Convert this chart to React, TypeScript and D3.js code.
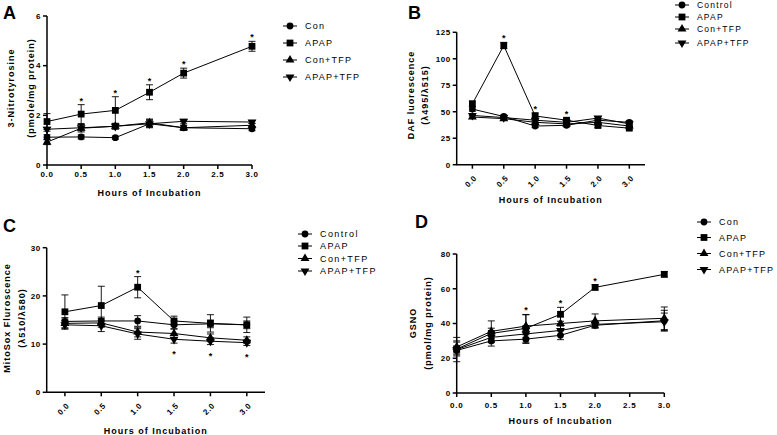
import React from "react";
import * as d3 from "d3";

// ---------- shared ----------
const hours = [0, 0.5, 1, 1.5, 2, 3];
const hourLabels = ["0.0", "0.5", "1.0", "1.5", "2.0", "3.0"];
const linearTicks = [0, 0.5, 1, 1.5, 2, 2.5, 3];
const markerTypes = ["circle", "square", "up", "down"];

// ---------- Panel A : 3-Nitrotyrosine ----------
const namesA = ["Con", "APAP", "Con+TFP", "APAP+TFP"];
const conA = [1.12, 1.13, 1.1, 1.66, 1.5, 1.46];
const conErrA = [0.1, 0.08, 0.06, 0.14, 0.1, 0.08];
const apapA = [1.75, 2.05, 2.2, 2.93, 3.7, 4.78];
const apapErrA = [0.32, 0.38, 0.55, 0.3, 0.2, 0.2];
const conTfpA = [0.92, 1.48, 1.56, 1.7, 1.5, 1.6];
const conTfpErrA = [0.1, 0.15, 0.12, 0.15, 0.1, 0.08];
const apapTfpA = [1.44, 1.5, 1.56, 1.66, 1.76, 1.73];
const apapTfpErrA = [0.08, 0.12, 0.1, 0.16, 0.08, 0.06];
const starsAboveA = [false, true, true, true, true, true];
const yTicksA = [0, 2, 4, 6];

// ---------- Panel B : DAF fluorescence ----------
const namesB = ["Control", "APAP", "Con+TFP", "APAP+TFP"];
const controlB = [52.5, 45.5, 36.5, 37.2, 42, 40];
const controlErrB = [2, 1.5, 1.5, 1.5, 2, 1.5];
const apapB = [57.5, 112.5, 46, 42, 37, 34.5];
const apapErrB = [2.5, 3, 3, 2, 2, 1.5];
const conTfpB = [45, 43.5, 40, 38.5, 40, 36.5];
const conTfpErrB = [1.5, 1.5, 1.5, 1.5, 1.5, 1.5];
const apapTfpB = [46.5, 44.5, 42, 40, 44, 38.5];
const apapTfpErrB = [1.5, 1.5, 1.5, 1.5, 1.5, 1.5];
const starsAboveB = [false, true, true, true, false, false];
const yTicksB = [0, 25, 50, 75, 100, 125];

// ---------- Panel C : MitoSox ----------
const namesC = ["Control", "APAP", "Con+TFP", "APAP+TFP"];
const controlC = [14.7, 14.8, 14.8, 14.0, 14.2, 14.0];
const controlErrC = [0.8, 0.8, 1.1, 0.8, 0.8, 0.8];
const apapC = [16.7, 18.0, 21.8, 14.8, 14.3, 14.0];
const apapErrC = [3.5, 4.0, 2.2, 1.0, 1.8, 1.6];
const conTfpC = [14.3, 14.4, 12.5, 12.2, 11.3, 10.8];
const conTfpErrC = [0.9, 0.9, 1.0, 0.9, 0.8, 0.7];
const apapTfpC = [14.0, 13.8, 12.1, 11.0, 10.6, 10.3];
const apapTfpErrC = [0.9, 1.2, 1.1, 0.8, 0.7, 0.6];
const starsAboveC = [false, false, true, false, false, false];
const starsBelowC = [false, false, false, true, true, true];
const yTicksC = [0, 10, 20, 30];

// ---------- Panel D : GSNO ----------
const namesD = ["Con", "APAP", "Con+TFP", "APAP+TFP"];
const conD = [24.5, 30, 31, 33.2, 39, 41.6];
const conErrD = [2.5, 3, 2.5, 2.5, 1.5, 6];
const apapD = [25.3, 34.3, 37.2, 45.3, 60.8, 68.3];
const apapErrD = [4, 3, 8, 4, 1.5, 1.5];
const conTfpD = [26.5, 35.5, 38.5, 40, 41.5, 43];
const conTfpErrD = [3.5, 6, 6.5, 4, 4, 6.5];
const apapTfpD = [25, 32, 34, 36, 39.5, 41];
const apapTfpErrD = [7, 3, 3, 2.5, 2, 5];
const starsAboveD = [false, false, true, true, true, false];
const yTicksD = [0, 20, 40, 60, 80];

const FONT = "'Liberation Sans', Arial, sans-serif";

type Series = { name: string; type: string; values: number[]; errs: number[] };

function mkSeries(names: string[], vals: number[][], errs: number[][]): Series[] {
  return names.map((n, i) => ({ name: n, type: markerTypes[i], values: vals[i], errs: errs[i] }));
}

function symbolPath(type: string, x: number, y: number) {
  let sym: any = d3.symbolCircle;
  let size = 36;
  let rot = 0;
  if (type === "square") { sym = d3.symbolSquare; size = 46; }
  if (type === "up") { sym = d3.symbolTriangle; size = 34; }
  if (type === "down") { sym = d3.symbolTriangle; size = 34; rot = 180; }
  const p = d3.symbol().type(sym).size(size)() as string;
  return <path d={p} transform={`translate(${x},${y}) rotate(${rot})`} fill="#000" />;
}

type PanelProps = {
  letter: string; letterX: number; letterY: number;
  xRange: [number, number]; yRange: [number, number]; yDomain: [number, number]; yTicks: number[];
  xMode: "linear" | "point"; tickLabelOffset: number;
  xTitleY: number;
  yTitles: string[]; yTitleX: number[]; yTitleCY: number;
  legendX: number; legendYs: number[]; legendFs: number; legendLs: number;
  series: Series[]; starsAbove: boolean[]; starsBelow?: boolean[];
  starSeries: number; starBelowSeries?: number;
};

function Panel(p: PanelProps) {
  const y = d3.scaleLinear().domain(p.yDomain).range(p.yRange);
  const xl = d3.scaleLinear().domain([0, 3]).range(p.xRange);
  const xp = d3.scalePoint<string>().domain(hourLabels).range(p.xRange).padding(0.5);
  const xOf = (i: number) => (p.xMode === "linear" ? xl(hours[i]) : (xp(hourLabels[i]) as number));
  const [x0, x1] = p.xRange;
  const [yb, yt] = p.yRange;
  const line = d3.line<number>().x((_, i) => xOf(i)).y((v) => y(v));
  const xTitleX = (x0 + x1) / 2;
  const capW = 3.5;
  return (
    <g>
      <text x={p.letterX} y={p.letterY} fontFamily={FONT} fontWeight="bold" fontSize={18}>{p.letter}</text>
      {/* axes */}
      <line x1={x0} x2={x0} y1={yb} y2={yt} stroke="#000" strokeWidth={1.5} />
      <line x1={x0 - 0.75} x2={x1} y1={yb} y2={yb} stroke="#000" strokeWidth={1.5} />
      {p.yTicks.map((t) => (
        <g key={"yt" + t}>
          <line x1={x0 - 4} x2={x0} y1={y(t)} y2={y(t)} stroke="#000" strokeWidth={1.5} />
          <text x={x0 - 6} y={y(t)} dy="0.35em" textAnchor="end" fontFamily={FONT} fontWeight="bold" fontSize={8} letterSpacing={0.5}>{t}</text>
        </g>
      ))}
      {p.xMode === "linear"
        ? linearTicks.map((t) => (
            <g key={"xt" + t}>
              <line x1={xl(t)} x2={xl(t)} y1={yb} y2={yb + 4} stroke="#000" strokeWidth={1.5} />
              <text x={xl(t)} y={yb + p.tickLabelOffset} dy="0.35em" textAnchor="middle" fontFamily={FONT} fontWeight="bold" fontSize={8} letterSpacing={0.7}>{t.toFixed(1)}</text>
            </g>
          ))
        : hourLabels.map((t) => (
            <g key={"xt" + t}>
              <line x1={xp(t)} x2={xp(t)} y1={yb} y2={yb + 4} stroke="#000" strokeWidth={1.5} />
              <text transform={`translate(${(xp(t) as number) + 3},${yb + 12}) rotate(-45)`} dy="0.35em" textAnchor="end" fontFamily={FONT} fontWeight="bold" fontSize={8} letterSpacing={0.6}>{t}</text>
            </g>
          ))}
      <text x={xTitleX} y={p.xTitleY} dy="0.35em" textAnchor="middle" fontFamily={FONT} fontWeight="bold" fontSize={9} letterSpacing={1}>Hours of Incubation</text>
      {p.yTitles.map((t, i) => (
        <text key={"ytl" + i} transform={`translate(${p.yTitleX[i]},${p.yTitleCY}) rotate(-90)`} dy="0.35em" textAnchor="middle" fontFamily={FONT} fontWeight="bold" fontSize={9} letterSpacing={1}>{t}</text>
      ))}
      {/* series */}
      {p.series.map((s, si) => (
        <g key={"s" + si}>
          <path d={line(s.values) as string} fill="none" stroke="#000" strokeWidth={1} />
          {s.values.map((v, i) => {
            const cx = xOf(i);
            const hi = y(v + s.errs[i]);
            const lo = y(v - s.errs[i]);
            return (
              <g key={"e" + i} stroke="#000" strokeWidth={0.9}>
                <line x1={cx} x2={cx} y1={hi} y2={lo} />
                <line x1={cx - capW} x2={cx + capW} y1={hi} y2={hi} />
                <line x1={cx - capW} x2={cx + capW} y1={lo} y2={lo} />
              </g>
            );
          })}
          {s.values.map((v, i) => <g key={"m" + i}>{symbolPath(s.type, xOf(i), y(v))}</g>)}
        </g>
      ))}
      {/* stars */}
      {p.starsAbove.map((on, i) => {
        if (!on) return null;
        const s = p.series[p.starSeries];
        return <text key={"sa" + i} x={xOf(i)} y={y(s.values[i] + s.errs[i]) - 1} textAnchor="middle" fontFamily={FONT} fontWeight="bold" fontSize={9} fill="#000">*</text>;
      })}
      {p.starsBelow && p.starsBelow.map((on, i) => {
        if (!on) return null;
        const s = p.series[p.starBelowSeries as number];
        return <text key={"sb" + i} x={xOf(i)} y={y(s.values[i] - s.errs[i]) + 14} textAnchor="middle" fontFamily={FONT} fontWeight="bold" fontSize={9} fill="#000">*</text>;
      })}
      {/* legend */}
      {p.series.map((s, i) => (
        <g key={"lg" + i}>
          <line x1={p.legendX} x2={p.legendX + 14} y1={p.legendYs[i]} y2={p.legendYs[i]} stroke="#000" strokeWidth={1} />
          {symbolPath(s.type, p.legendX + 7, p.legendYs[i])}
          <text x={p.legendX + 22} y={p.legendYs[i]} dy="0.35em" fontFamily={FONT} fontSize={p.legendFs} letterSpacing={p.legendLs}>{s.name}</text>
        </g>
      ))}
    </g>
  );
}

export default function App() {
  const sA = mkSeries(namesA, [conA, apapA, conTfpA, apapTfpA], [conErrA, apapErrA, conTfpErrA, apapTfpErrA]);
  const sB = mkSeries(namesB, [controlB, apapB, conTfpB, apapTfpB], [controlErrB, apapErrB, conTfpErrB, apapTfpErrB]);
  const sC = mkSeries(namesC, [controlC, apapC, conTfpC, apapTfpC], [controlErrC, apapErrC, conTfpErrC, apapTfpErrC]);
  const sD = mkSeries(namesD, [conD, apapD, conTfpD, apapTfpD], [conErrD, apapErrD, conTfpErrD, apapTfpErrD]);
  return (
    <svg width={777} height={435} style={{ position: "absolute", left: 0, top: 0, background: "#fff" }}>
      <rect x={0} y={0} width={777} height={435} fill="#fff" />
      <Panel letter="A" letterX={3} letterY={19} xRange={[47, 252]} yRange={[165, 16]} yDomain={[0, 6]} yTicks={yTicksA}
        xMode="linear" tickLabelOffset={9} xTitleY={193}
        yTitles={["3-Nitrotyrosine", "(pmole/mg protein)"]} yTitleX={[11, 31]} yTitleCY={88}
        legendX={283} legendYs={[26, 43, 60, 77]} legendFs={9} legendLs={1.2}
        series={sA} starsAbove={starsAboveA} starSeries={1} />
      <Panel letter="B" letterX={408} letterY={19} xRange={[456.7, 645]} yRange={[164.7, 32.3]} yDomain={[0, 125]} yTicks={yTicksB}
        xMode="point" tickLabelOffset={12} xTitleY={200}
        yTitles={["DAF luorescence", "(λ495/λ515)"]} yTitleX={[411, 425]} yTitleCY={95}
        legendX={675} legendYs={[5, 17, 29, 43]} legendFs={8.5} legendLs={1.2}
        series={sB} starsAbove={starsAboveB} starSeries={1} />
      <Panel letter="C" letterX={3} letterY={232} xRange={[46.7, 265]} yRange={[392.3, 247.7]} yDomain={[0, 30]} yTicks={yTicksC}
        xMode="point" tickLabelOffset={12} xTitleY={430.7}
        yTitles={["MitoSox Fluroscence", "(λ510/λ580)"]} yTitleX={[7, 22]} yTitleCY={318}
        legendX={298} legendYs={[234, 246, 258.5, 271]} legendFs={9} legendLs={1.4}
        series={sC} starsAbove={starsAboveC} starSeries={1} starsBelow={starsBelowC} starBelowSeries={3} />
      <Panel letter="D" letterX={415} letterY={228} xRange={[456.7, 664.3]} yRange={[393, 254]} yDomain={[0, 80]} yTicks={yTicksD}
        xMode="linear" tickLabelOffset={12} xTitleY={421}
        yTitles={["GSNO", "(pmol/mg protein)"]} yTitleX={[413, 428]} yTitleCY={323}
        legendX={697} legendYs={[222, 237.5, 253.5, 269.5]} legendFs={9} legendLs={1.2}
        series={sD} starsAbove={starsAboveD} starSeries={1} />
    </svg>
  );
}
